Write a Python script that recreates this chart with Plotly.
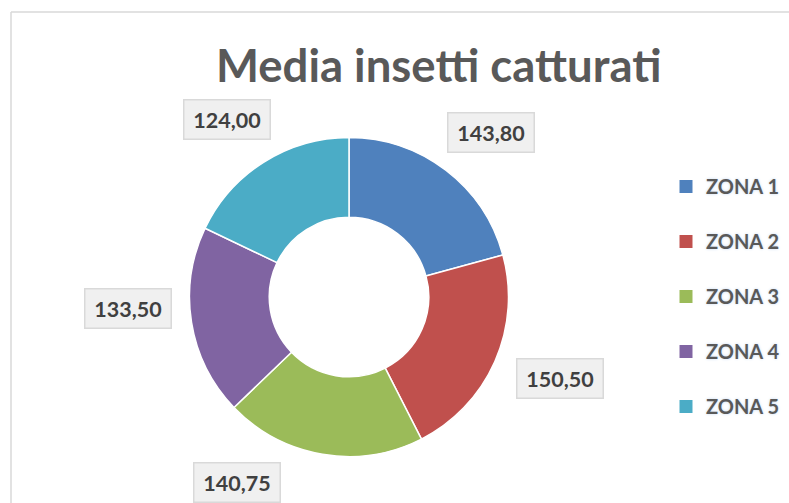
import plotly.graph_objects as go

# ---- data ----
CATEGORIES = ["ZONA 1", "ZONA 2", "ZONA 3", "ZONA 4", "ZONA 5"]
VALUES = [143.80, 150.50, 140.75, 133.50, 124.00]
COLORS = ["#4F81BD", "#C0504D", "#9BBB59", "#8064A2", "#4BACC6"]
TITLE = "Media insetti catturati"

# ---- layout constants (pixels, page coordinates) ----
W, H = 789, 503
CX, CY, R = 349, 297, 159.5
LABEL_XY = [(491, 132.5), (559.5, 378), (237, 482), (127.5, 308), (226.5, 120)]
FONT = "Lato"


def px(x):
    return x / W


def py(y):
    return 1 - y / H


fig = go.Figure()
fig.add_trace(go.Pie(
    labels=CATEGORIES,
    values=VALUES,
    hole=0.5,
    sort=False,
    direction="clockwise",
    rotation=0,
    textinfo="none",
    marker=dict(colors=COLORS, line=dict(color="white", width=1.5)),
    showlegend=False,
    domain=dict(x=[px(CX - R), px(CX + R)], y=[py(CY + R), py(CY - R)]),
))

# legend entries (one per category)
for name, col in zip(CATEGORIES, COLORS):
    fig.add_trace(go.Scatter(
        x=[None], y=[None], mode="markers", name=name, legendgroup=name,
        marker=dict(symbol="square", size=13, color=col),
    ))

annotations = [dict(
    text=f"<b>{TITLE}</b>", x=px(438.5), y=py(65), xref="paper", yref="paper",
    xanchor="center", yanchor="middle", showarrow=False,
    font=dict(family=FONT, size=45.5, color="#595959"),
)]
for v, (lx, ly) in zip(VALUES, LABEL_XY):
    annotations.append(dict(
        text="<b>" + f"{v:.2f}".replace(".", ",") + "</b>",
        x=px(lx), y=py(ly), xref="paper", yref="paper",
        xanchor="center", yanchor="middle", showarrow=False,
        font=dict(family=FONT, size=21.5, color="#404040"),
        bgcolor="#f0f0f0", bordercolor="#d9d9d9", borderwidth=1.5,
        borderpad=6, width=73, height=26,
    ))

shapes = [
    dict(type="line", xref="paper", yref="paper", x0=px(11), x1=1.0, y0=py(12), y1=py(12),
         line=dict(color="#d9d9d9", width=1.5)),
    dict(type="line", xref="paper", yref="paper", x0=px(11), x1=px(11), y0=py(12), y1=0,
         line=dict(color="#d9d9d9", width=1.5)),
]

fig.update_layout(
    width=W, height=H,
    margin=dict(l=0, r=0, t=0, b=0),
    paper_bgcolor="white", plot_bgcolor="white",
    xaxis=dict(visible=False), yaxis=dict(visible=False),
    annotations=annotations, shapes=shapes,
    legend=dict(
        x=px(666), y=py(167), xanchor="left", yanchor="top",
        font=dict(family=FONT, size=20, color="#595959", weight="bold",
                  shadow="0px 0px 3px #c6d9f1"),
        tracegroupgap=26, bgcolor="rgba(0,0,0,0)",
    ),
)

fig.write_html(
    "out.html",
    config={"displayModeBar": False},
    post_script="document.body.style.margin='0';document.documentElement.style.overflow='hidden';",
)
